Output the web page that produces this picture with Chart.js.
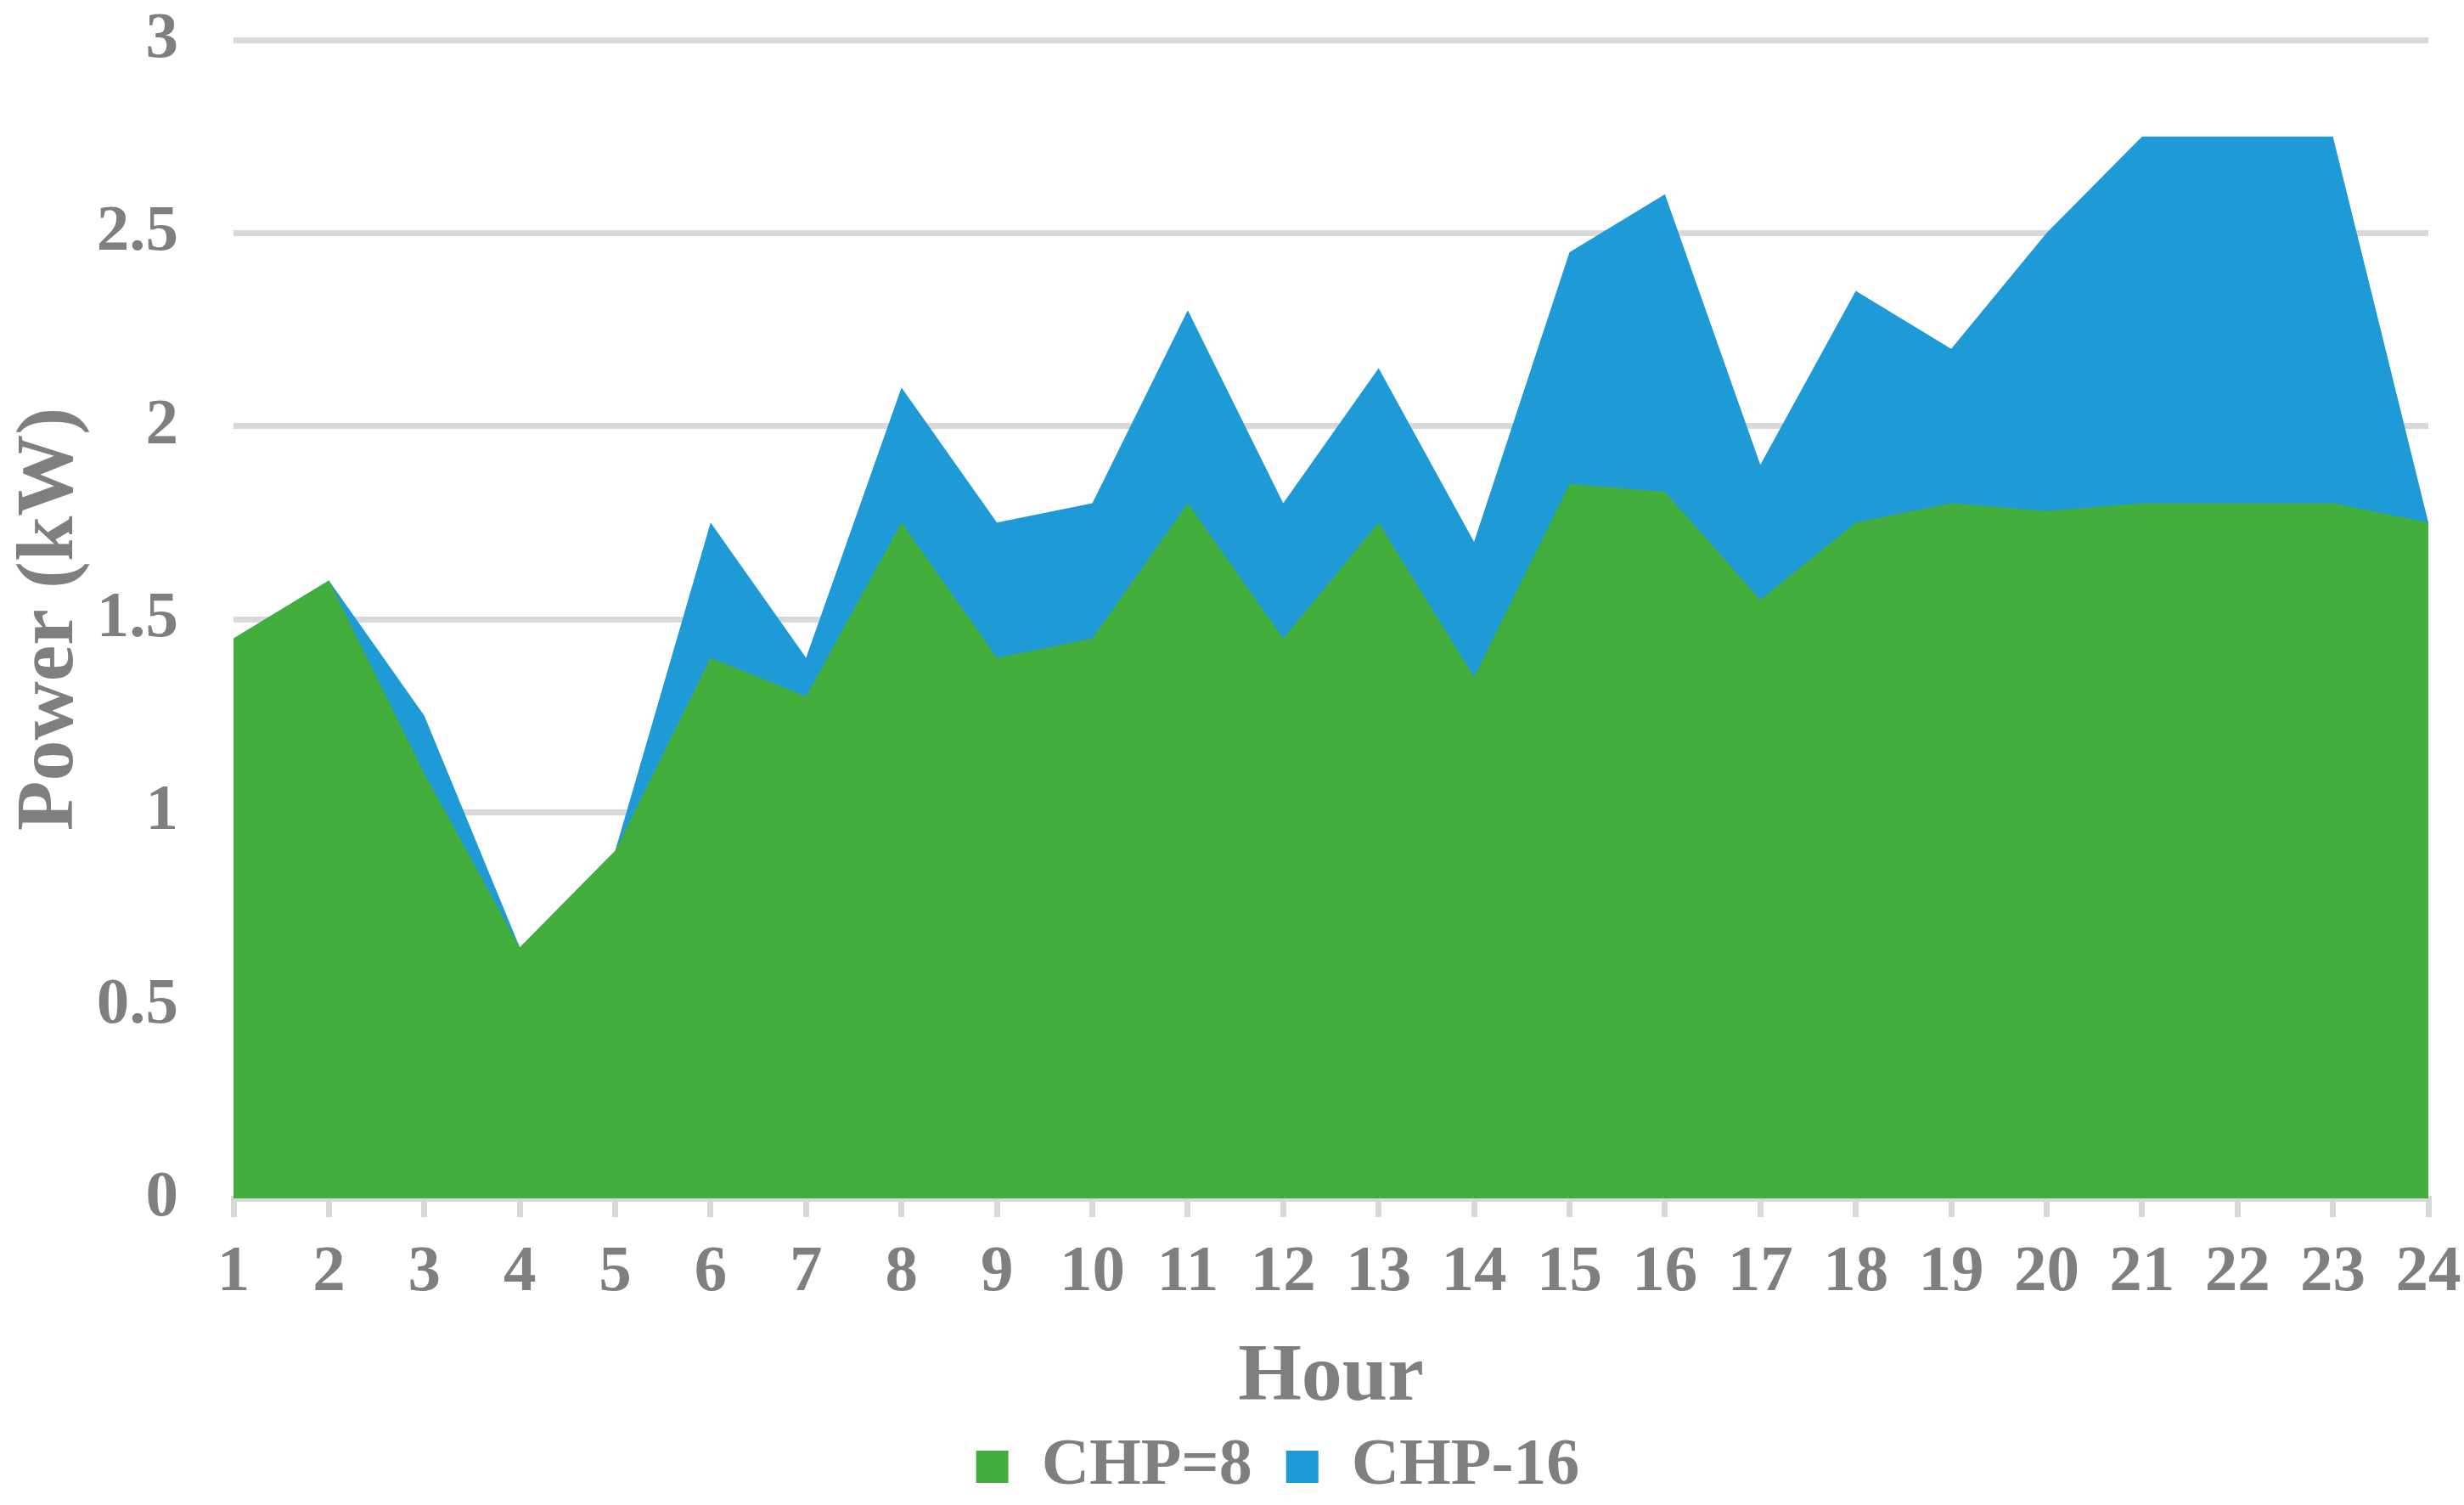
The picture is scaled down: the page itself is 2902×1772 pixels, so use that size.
<!DOCTYPE html>
<html>
<head>
<meta charset="utf-8">
<script src="https://cdn.jsdelivr.net/npm/chart.js@4/dist/chart.umd.min.js"></script>
<style>
  html, body { margin: 0; padding: 0; background: #fff; }
  #wrap { width: 2902px; height: 1772px; }
</style>
</head>
<body>
<div id="wrap"><canvas id="chart" width="2902" height="1772"></canvas></div>
<script>
// datos
const hours = ['1','2','3','4','5','6','7','8','9','10','11','12','13','14','15','16','17','18','19','20','21','22','23','24'];
const chp8  = [1.45, 1.6, 1.1, 0.65, 0.9, 1.4, 1.3, 1.75, 1.4, 1.45, 1.8, 1.45, 1.75, 1.35, 1.85, 1.83, 1.55, 1.75, 1.8, 1.78, 1.8, 1.8, 1.8, 1.75];
const chp16 = [1.45, 1.6, 1.25, 0.65, 0.9, 1.75, 1.4, 2.1, 1.75, 1.8, 2.3, 1.8, 2.15, 1.7, 2.45, 2.6, 1.9, 2.35, 2.2, 2.5, 2.75, 2.75, 2.75, 1.75];
const yTicks = [0, 0.5, 1, 1.5, 2, 2.5, 3];
const yTickLabels = ['0', '0.5', '1', '1.5', '2', '2.5', '3'];

// estilo
Chart.defaults.font.family = "'Liberation Serif', 'Times New Roman', serif";
Chart.defaults.font.weight = 'bold';
Chart.defaults.color = '#7f7f7f';

const GRID = '#d9d9d9';

// la leyenda de Excel queda algo a la derecha del centro
const legendShift = {
    id: 'legendShift',
    afterLayout(chart) {
        chart.legend.left += 75;
        chart.legend.right += 75;
    }
};

new Chart(document.getElementById('chart'), {
    type: 'line',
    data: {
        labels: hours,
        datasets: [
            {
                label: 'CHP=8',
                data: chp8,
                backgroundColor: '#44ae3c',
                borderColor: '#44ae3c',
                borderWidth: 0,
                pointRadius: 0,
                fill: 'origin'
            },
            {
                label: 'CHP-16',
                data: chp16,
                backgroundColor: '#1e9bd7',
                borderColor: '#1e9bd7',
                borderWidth: 0,
                pointRadius: 0,
                fill: 'origin'
            }
        ]
    },
    plugins: [legendShift],
    options: {
        responsive: false,
        animation: false,
        layout: { padding: { left: 0, right: 42, top: 47, bottom: -4 } },
        plugins: {
            tooltip: { enabled: false },
            legend: {
                position: 'bottom',
                labels: {
                    font: { size: 78 },
                    boxWidth: 38,
                    boxHeight: 38,
                    padding: 40
                }
            }
        },
        scales: {
            x: {
                offset: false,
                grid: { drawOnChartArea: false, color: GRID, lineWidth: 7, tickLength: 22, tickWidth: 7 },
                border: { color: GRID, width: 7 },
                ticks: { font: { size: 77 }, padding: 20, maxRotation: 0, autoSkip: false },
                title: { display: true, text: 'Hour', font: { size: 96, lineHeight: 1 }, padding: { top: 0, bottom: -23 } },
                afterFit: s => { s.height = 237; s.paddingLeft = 0; s.paddingRight = 0; }
            },
            y: {
                min: 0,
                max: 3,
                afterBuildTicks: s => { s.ticks = yTicks.map(v => ({ value: v })); },
                grid: { color: GRID, lineWidth: 7, drawTicks: false },
                border: { display: false },
                ticks: {
                    font: { size: 77 },
                    padding: 65,
                    callback: (v, i) => yTickLabels[i]
                },
                title: { display: true, text: 'Power (kW)', font: { size: 96, lineHeight: 1 }, padding: { top: 12, bottom: 0 } },
                afterFit: s => { s.width = 275; s.paddingTop = 0; s.paddingBottom = 0; }
            }
        }
    }
});
</script>
</body>
</html>
